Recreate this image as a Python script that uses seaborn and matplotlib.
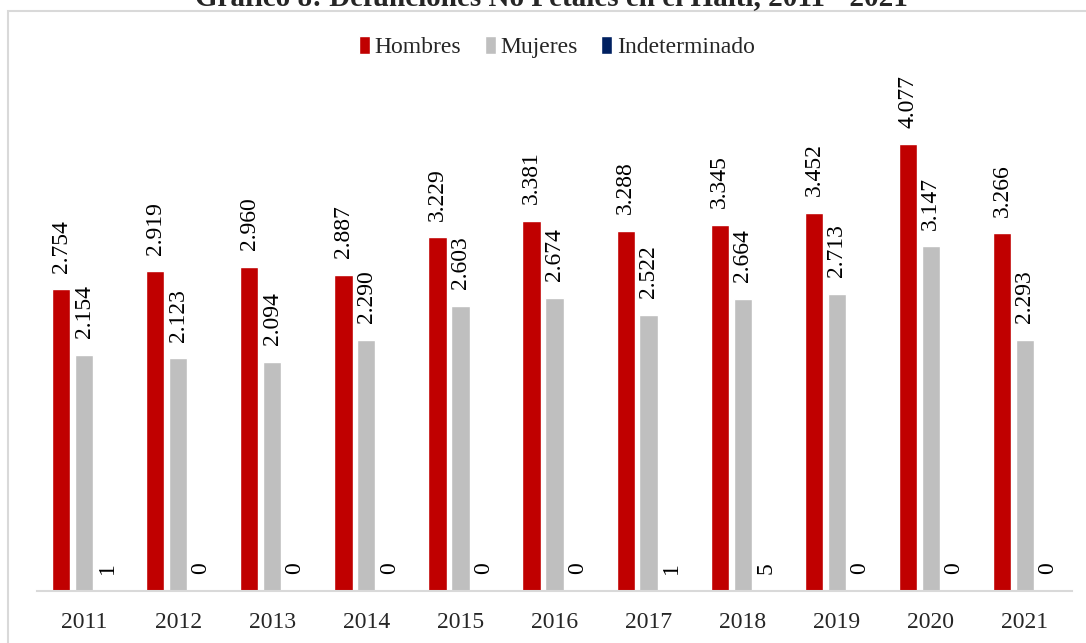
import pandas as pd
import matplotlib.pyplot as plt
import seaborn as sns
from matplotlib.patches import Rectangle

sns.set_style("white")
plt.rcParams["font.family"] = ["Liberation Serif", "DejaVu Serif"]

# ================================
# DATA
# ================================

years = ["2011", "2012", "2013", "2014", "2015", "2016",
         "2017", "2018", "2019", "2020", "2021"]
hombres = [2754, 2919, 2960, 2887, 3229, 3381, 3288, 3345, 3452, 4077, 3266]
mujeres = [2154, 2123, 2094, 2290, 2603, 2674, 2522, 2664, 2713, 3147, 2293]
indeterminado = [1, 0, 0, 0, 0, 0, 1, 5, 0, 0, 0]

series = ["Hombres", "Mujeres", "Indeterminado"]
colors = {"Hombres": "#C00000", "Mujeres": "#BFBFBF", "Indeterminado": "#002060"}

df = pd.DataFrame({
    "year": years * 3,
    "sexo": ["Hombres"] * 11 + ["Mujeres"] * 11 + ["Indeterminado"] * 11,
    "valor": hombres + mujeres + indeterminado,
})

# ================================
# PLOT
# ================================

W, H = 1086, 643
fig = plt.figure(figsize=(W / 100, H / 100), dpi=100)
ax = fig.add_axes([37 / W, 1 - 591 / H, 1035 / W, 493 / H])

sns.barplot(
    data=df, x="year", y="valor", hue="sexo", hue_order=series,
    palette=colors, width=0.73, gap=0.2, ax=ax, legend=True,
    saturation=1, errorbar=None,
)

for cont in ax.containers:
    labels = [f"{int(round(b.get_height())):,}".replace(",", ".") for b in cont]
    ax.bar_label(cont, labels=labels, rotation=90, padding=12,
                 fontsize=17, color="black")

ax.set_ylim(0, 4500)
ax.set_xlim(-0.5, 10.5)
ax.set_xlabel("")
ax.set_ylabel("")
ax.set_yticks([])
ax.tick_params(axis="x", length=0, pad=15, labelsize=17)
for s in ["top", "left", "right"]:
    ax.spines[s].set_visible(False)
ax.spines["bottom"].set_color("#D9D9D9")
ax.spines["bottom"].set_linewidth(1.5)

handles, lbls = ax.get_legend_handles_labels()
ax.get_legend().remove()
fig.legend(handles, lbls, loc="center", bbox_to_anchor=(557 / W, 1 - 47 / H),
           ncol=3, frameon=False, fontsize=17, handlelength=0.45,
           handleheight=0.8, handletextpad=0.2, columnspacing=1.0)

# chart frame
fig.patches.append(Rectangle((8 / W, -0.05), 1.1, 1 - 11 / H + 0.05,
                             transform=fig.transFigure, fill=False,
                             edgecolor="#D9D9D9", linewidth=1.5))

fig.text(551 / W, 1 - 5 / H,
         "Gráfico 8: Defunciones No Fetales en el Haití, 2011 - 2021",
         ha="center", va="baseline", fontsize=21, fontweight="bold")

fig.savefig("out.png", dpi=100)
